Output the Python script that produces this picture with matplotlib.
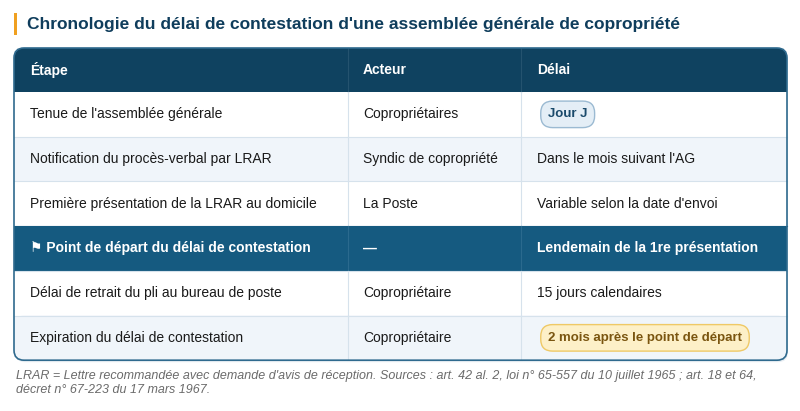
import matplotlib
matplotlib.use("Agg")
import matplotlib.pyplot as plt
from matplotlib.patches import FancyBboxPatch, Rectangle

plt.rcParams['font.family'] = ['Liberation Sans', 'DejaVu Sans']

title = "Chronologie du délai de contestation d'une assemblée générale de copropriété"
headers = ["Étape", "Acteur", "Délai"]
etapes = ["Tenue de l'assemblée générale",
          "Notification du procès-verbal par LRAR",
          "Première présentation de la LRAR au domicile",
          "⚑ Point de départ du délai de contestation",
          "Délai de retrait du pli au bureau de poste",
          "Expiration du délai de contestation"]
acteurs = ["Copropriétaires", "Syndic de copropriété", "La Poste", "—",
           "Copropriétaire", "Copropriétaire"]
delais = ["Jour J", "Dans le mois suivant l'AG", "Variable selon la date d'envoi",
          "Lendemain de la 1re présentation", "15 jours calendaires",
          "2 mois après le point de départ"]
row_kind = ["badge_blue", "plain", "plain", "highlight", "plain", "badge_gold"]
footnote = ("LRAR = Lettre recommandée avec demande d'avis de réception. Sources : art. 42 al. 2, loi n° 65-557 du 10 juillet 1965 ; art. 18 et 64,\n"
            "décret n° 67-223 du 17 mars 1967.")

W, H = 800, 411
fig = plt.figure(figsize=(W/100, H/100), dpi=100)
ax = fig.add_axes([0, 0, 1, 1])
ax.set_xlim(0, W); ax.set_ylim(H, 0); ax.axis('off')

dark = "#0f4260"; hl = "#155a80"; light = "#f0f5fa"; grid = "#d6e2ec"
x0, x1 = 14, 787
y0, yh = 48, 92
rh = 44.7
cols = [x0, 348, 521, x1]
tx = [30, 363, 537]

# title
ax.add_patch(Rectangle((14, 13), 3, 22, color="#f0a020", lw=0))
ax.text(27, 24, title, fontsize=12.5, fontweight='bold', color="#0f3d5c", va='center')

# outer box background + shadow
ax.add_patch(FancyBboxPatch((x0+1, y0+2), x1-x0, 6*rh+(yh-y0), boxstyle="round,pad=0,rounding_size=10",
                            fc="#e8eef3", ec="none", zorder=0))
ax.add_patch(FancyBboxPatch((x0, y0), x1-x0, 6*rh+(yh-y0), boxstyle="round,pad=0,rounding_size=10",
                            fc="white", ec="none", zorder=1))
# header
ax.add_patch(FancyBboxPatch((x0, y0), x1-x0, yh-y0, boxstyle="round,pad=0,rounding_size=10",
                            fc=dark, ec="none", zorder=2))
ax.add_patch(Rectangle((x0, y0+15), x1-x0, yh-y0-15, fc=dark, ec="none", zorder=2))
for c in cols[1:3]:
    ax.plot([c, c], [y0, yh], color="#24536f", lw=0.8, zorder=3)
for i, h in enumerate(headers):
    ax.text(tx[i], (y0+yh)/2, h, fontsize=10, fontweight='bold', color='white', va='center', zorder=4)

for r in range(6):
    ya = yh + r*rh
    kind = row_kind[r]
    fc = hl if kind == "highlight" else (light if r % 2 == 1 else "white")
    if r == 5:
        ax.add_patch(FancyBboxPatch((x0, ya), x1-x0, rh, boxstyle="round,pad=0,rounding_size=10",
                                    fc=fc, ec="none", zorder=2))
        ax.add_patch(Rectangle((x0, ya), x1-x0, rh-12, fc=fc, ec="none", zorder=2))
    else:
        ax.add_patch(Rectangle((x0, ya), x1-x0, rh, fc=fc, ec="none", zorder=2))
    if r > 0:
        ax.plot([x0, x1], [ya, ya], color=grid if kind != "highlight" else hl, lw=0.8, zorder=3)
    for c in cols[1:3]:
        ax.plot([c, c], [ya, ya+rh], color=grid if kind != "highlight" else "#2a6a8e", lw=0.8, zorder=3)
    yc = ya + rh/2
    if kind == "highlight":
        kw = dict(fontsize=10, fontweight='bold', color='white')
    else:
        kw = dict(fontsize=10, color='#1a1a1a')
    ax.text(tx[0], yc, etapes[r], va='center', zorder=5, **kw)
    ax.text(tx[1], yc, acteurs[r], va='center', zorder=5, **kw)
    if kind == "badge_blue":
        t = ax.text(tx[2]+11, yc, delais[r], va='center', fontsize=9.5, fontweight='bold', color="#1a4a6b", zorder=6,
                    bbox=dict(boxstyle="round,pad=0.55,rounding_size=0.9", fc="#e4eef6", ec="#9bbad2", lw=1))
    elif kind == "badge_gold":
        ax.text(tx[2]+11, yc, delais[r], va='center', fontsize=9.5, fontweight='bold', color="#7a5510", zorder=6,
                bbox=dict(boxstyle="round,pad=0.55,rounding_size=0.9", fc="#fdf0c8", ec="#efc966", lw=1))
    else:
        ax.text(tx[2], yc, delais[r], va='center', zorder=5, **kw)

# outer border
ax.add_patch(FancyBboxPatch((x0, y0), x1-x0, 6*rh+(yh-y0), boxstyle="round,pad=0,rounding_size=10",
                            fc="none", ec="#2f6a8e", lw=1.2, zorder=7))

ax.text(16, 370, footnote, fontsize=9, style='italic', color="#6b6b6b", va='top', linespacing=1.25)

fig.savefig("out.png", dpi=100)
